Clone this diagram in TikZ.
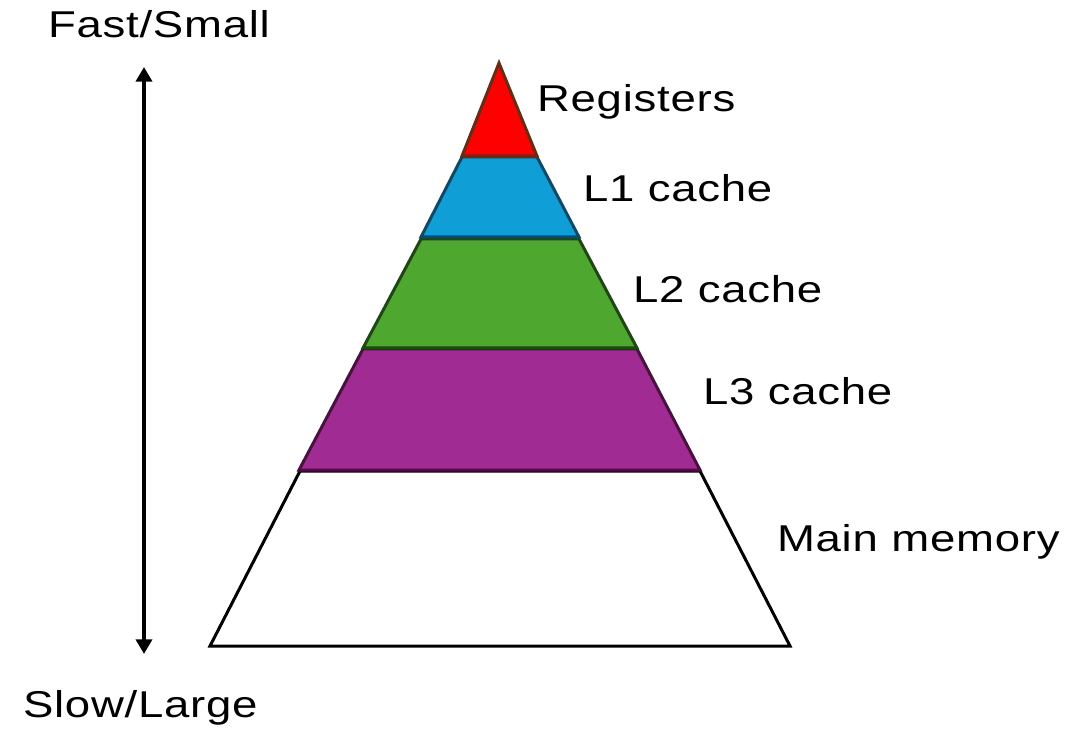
\documentclass[tikz,border=0pt]{standalone}
\usepackage{fontspec}
\setmainfont{Liberation Sans}[FakeStretch=1.22, LetterSpace=2]
\usetikzlibrary{arrows.meta}
\definecolor{regfill}{HTML}{FF0000}
\definecolor{regline}{HTML}{6B2A12}
\definecolor{lonefill}{HTML}{0F9ED5}
\definecolor{loneline}{HTML}{0C4A68}
\definecolor{ltwofill}{HTML}{4EA72E}
\definecolor{ltwoline}{HTML}{1E4812}
\definecolor{lthreefill}{HTML}{A02B93}
\definecolor{lthreeline}{HTML}{4A1042}
\begin{document}
\begin{tikzpicture}[x=0.75pt,y=-0.75pt,
  layer/.style={line width=2.25pt, line join=miter},
  lbl/.style={anchor=base west, inner sep=0pt, outer sep=0pt, font=\fontsize{28}{33}\selectfont},
  axisarrow/.style={line width=3pt, {Triangle[length=11pt,width=12pt]}-{Triangle[length=11pt,width=12pt]}}]
\useasboundingbox (0,0) rectangle (1087,730);
% layers
\path[layer, fill=white, draw=black] (300,471) -- (700,471) -- (790,646) -- (210,646) -- cycle;
\path[layer, fill=lthreefill, draw=lthreeline] (363,349) -- (637,349) -- (700,470) -- (299,470) -- cycle;
\path[layer, fill=ltwofill, draw=ltwoline] (421,239) -- (579,239) -- (637,348) -- (363,348) -- cycle;
\path[layer, fill=lonefill, draw=loneline] (462,157) -- (537,157) -- (579,237) -- (421,237) -- cycle;
\path[layer, fill=regfill, draw=regline] (499,63) -- (537,156) -- (462,156) -- cycle;
% labels
\node[lbl] (fast) at (48,38) {Fast/Small};
\node[lbl] (slow) at (23,717) {Slow/Large};
\node[lbl] (reg) at (537,112) {Registers};
\node[lbl] (lone) at (583,202) {L1 cache};
\node[lbl] (ltwo) at (633,303) {L2 cache};
\node[lbl] (lthree) at (703,404) {L3 cache};
\node[lbl] (mem) at (777,551) {Main memory};
% arrow
\coordinate (atop) at (144,67);
\coordinate (abot) at (144,654);
\draw[axisarrow] (atop) -- (abot);
\end{tikzpicture}
\end{document}
